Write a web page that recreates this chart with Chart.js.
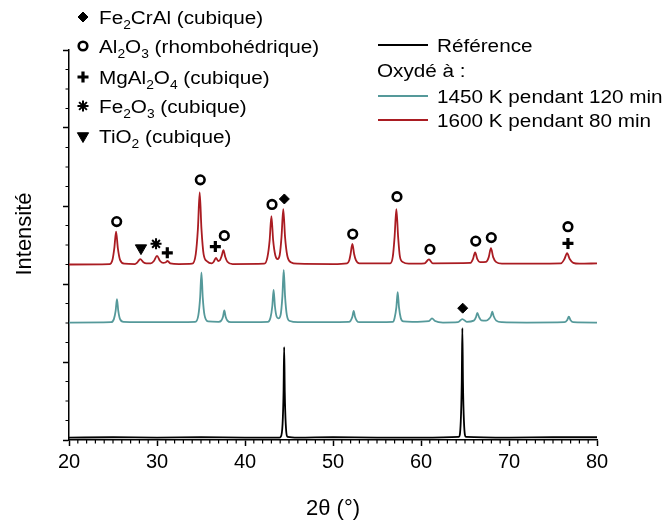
<!DOCTYPE html>
<html>
<head>
<meta charset="utf-8">
<script src="https://cdn.jsdelivr.net/npm/chart.js@4.4.0/dist/chart.umd.min.js"></script>
<style>
  body { margin: 0; background: #fff; }
  #wrap { width: 668px; height: 522px; }
</style>
</head>
<body>
<div id="wrap"><canvas id="xrd" width="668" height="522"></canvas></div>
<script>
// ---- data (2theta in degrees, intensity in arbitrary units 0-100) ----
const refAngles = [20, 25, 30, 35, 40, 43.9, 44.05, 44.27, 44.38, 44.45, 44.52, 44.63, 44.85, 46, 50, 55, 60,
  64.3, 64.52, 64.63, 64.7, 64.77, 64.88, 65.1, 70, 75, 80];
const refValues = [0.6, 0.7, 0.6, 0.7, 0.6, 0.6, 0.8, 4.1, 12.2, 23.8, 12.2, 4.1, 0.8, 0.6, 0.7, 0.6, 0.6,
  0.8, 4.8, 14.6, 28.7, 14.6, 4.8, 0.8, 0.6, 0.7, 0.7];

const t1450Angles = [20, 24.8, 25.1, 25.3, 25.45, 25.6, 25.8, 26.2, 30, 34.35, 34.7, 34.9, 35.05, 35.2, 35.4, 35.8,
  37.0, 37.3, 37.5, 37.65, 37.8, 38.0, 38.4, 42.6, 42.9, 43.1, 43.25, 43.4, 43.6, 43.8, 44.05, 44.25, 44.4, 44.55,
  44.75, 45.1, 46, 51.8, 52.0, 52.2, 52.35, 52.5, 52.7, 53.0, 56.8, 57.0, 57.2, 57.35, 57.5, 57.7, 58.0, 59.0,
  60.9, 61.25, 61.6, 62.5, 64.2, 64.7, 65.2, 66.0, 66.25, 66.4, 66.6, 66.85, 67.4, 67.7, 67.95, 68.1, 68.25, 68.55,
  69.2, 72, 76.3, 76.6, 76.8, 77.0, 77.3, 80];
const t1450Values = [30.1, 30.2, 31.0, 33.1, 36.1, 33.1, 31.0, 30.3, 30.2, 30.3, 32.0, 36.5, 43.0, 36.5, 32.0, 30.4,
  30.3, 30.6, 31.6, 33.2, 31.6, 30.6, 30.2, 30.3, 31.4, 34.3, 38.5, 34.3, 31.6, 31.2, 32.1, 36.9, 43.6, 36.9,
  32.1, 30.5, 30.2, 30.3, 30.6, 31.6, 33.1, 31.6, 30.6, 30.2, 30.3, 31.3, 34.0, 37.9, 34.0, 31.3, 30.4, 30.3,
  30.5, 31.2, 30.5, 30.1, 30.2, 31.0, 30.3, 30.6, 31.5, 32.6, 31.5, 30.7, 30.6, 31.0, 31.8, 32.9, 31.8, 30.6,
  30.2, 30.1, 30.2, 30.7, 31.6, 30.7, 30.2, 30.1];

const t1600Angles = [20, 24.6, 24.95, 25.15, 25.35, 25.55, 25.8, 26.3, 27.5, 27.75, 28.1, 28.45, 28.8, 29.3, 29.65,
  30.0, 30.35, 30.7, 30.95, 31.2, 31.5, 32.5, 34.0, 34.4, 34.65, 34.85, 35.05, 35.3, 35.7, 36.2, 36.45, 36.7,
  36.95, 37.15, 37.35, 37.55, 37.75, 38.0, 38.6, 42.2, 42.55, 42.8, 43.0, 43.2, 43.45, 43.7, 43.95, 44.15, 44.35,
  44.55, 44.8, 45.2, 46.0, 50.0, 51.6, 51.85, 52.0, 52.2, 52.4, 52.6, 53.0, 56.5, 56.8, 57.0, 57.2, 57.4, 57.6,
  57.95, 58.6, 60.4, 60.9, 61.35, 65.6, 65.9, 66.15, 66.4, 66.7, 67.4, 67.7, 67.95, 68.2, 68.55, 69.2, 75.9,
  76.3, 76.6, 76.9, 77.3, 78.0, 80.0];
const t1600Values = [45.0, 45.1, 46.3, 49.2, 53.4, 49.2, 46.2, 45.2, 45.1, 45.5, 46.4, 45.6, 45.3, 45.3, 45.9,
  47.2, 45.9, 45.4, 45.5, 45.9, 45.3, 45.1, 45.2, 47.6, 54.2, 63.5, 54.2, 47.6, 45.8, 45.3, 45.7, 46.7,
  45.9, 46.1, 47.2, 48.7, 47.0, 45.7, 45.1, 45.2, 46.9, 51.2, 57.4, 51.2, 47.3, 46.4, 47.5, 52.1, 59.2,
  52.1, 47.3, 45.6, 45.2, 45.1, 45.3, 46.1, 47.7, 50.3, 47.7, 46.1, 45.3, 45.3, 47.1, 52.1, 59.2, 52.1, 47.1,
  45.6, 45.2, 45.3, 46.3, 45.3, 45.4, 46.4, 48.1, 46.4, 45.6, 45.7, 46.9, 49.2, 46.9, 45.6, 45.2, 45.3,
  46.4, 47.9, 46.4, 45.4, 45.2, 45.3];

// phase markers above the peaks
const al2o3X = [25.42, 34.92, 37.65, 43.07, 52.24, 57.27, 61.02, 66.22, 67.99, 76.7];
const al2o3Y = [56.0, 66.7, 52.4, 60.4, 52.8, 62.4, 48.9, 51.0, 51.9, 54.7];
const fe2craX = [44.47, 64.74];
const fe2craY = [61.8, 33.8];
const mgal2o4X = [31.17, 36.63, 76.7];
const mgal2o4Y = [48.0, 49.6, 50.4];
const fe2o3X = [29.89];
const fe2o3Y = [50.3];
const tio2X = [28.18];
const tio2Y = [49.2];

const xTicks = [20, 30, 40, 50, 60, 70, 80];

const FONT = '"Liberation Sans", Arial, Helvetica, sans-serif';
const RED = '#aa1c22';
const TEAL = '#55999a';

const toPts = (xs, ys) => xs.map((x, i) => ({ x: x, y: ys[i] }));

// legend entries: [text, isSubscript] pieces
const phaseLegend = [
  { style: 'rectRot', radius: 5, border: 1, fill: '#000', parts: [['Fe', 0], ['2', 1], ['CrAl (cubique)', 0]] },
  { style: 'circle', radius: 4.3, border: 2.6, fill: 'rgba(0,0,0,0)', parts: [['Al', 0], ['2', 1], ['O', 0], ['3', 1], [' (rhombohédrique)', 0]] },
  { style: 'cross', radius: 5.5, border: 3.2, fill: '#000', parts: [['MgAl', 0], ['2', 1], ['O', 0], ['4', 1], [' (cubique)', 0]] },
  { style: 'star', radius: 5.5, border: 2, fill: '#000', parts: [['Fe', 0], ['2', 1], ['O', 0], ['3', 1], [' (cubique)', 0]] },
  { style: 'triangle', radius: 6.5, border: 1, fill: '#000', rotation: 180, parts: [['TiO', 0], ['2', 1], [' (cubique)', 0]] }
];
const phaseRowY = [17, 46, 77, 106, 136];

const seriesLegend = [
  { label: 'Référence', color: '#000', y: 45 },
  { label: 'Oxydé à :', color: null, y: 70 },
  { label: '1450 K pendant 120 min', color: TEAL, y: 96 },
  { label: '1600 K pendant 80 min', color: RED, y: 120 }
];

function drawRich(ctx, x, y, parts, size, sx) {
  ctx.save();
  ctx.translate(x, y);
  ctx.scale(sx, 1);
  let cx = 0;
  parts.forEach(p => {
    ctx.font = (p[1] ? Math.round(size * 0.66) : size) + 'px ' + FONT;
    ctx.fillText(p[0], cx, p[1] ? 5 : 0);
    cx += ctx.measureText(p[0]).width;
  });
  ctx.restore();
}

const decorPlugin = {
  id: 'decor',
  afterDraw(chart) {
    const ctx = chart.ctx;
    const xs = chart.scales.x, ys = chart.scales.y;
    const bottom = chart.chartArea.bottom, left = chart.chartArea.left;
    // minor ticks
    ctx.save();
    ctx.strokeStyle = '#000';
    ctx.lineWidth = 1.2;
    ctx.beginPath();
    for (let v = 21; v < 80; v++) {
      if (v % 10 === 0) continue;
      const px = xs.getPixelForValue(v);
      ctx.moveTo(px, bottom);
      ctx.lineTo(px, bottom + 3.5);
    }
    for (let v = 5; v < 100; v += 5) {
      if (v % 20 === 0) continue;
      const py = ys.getPixelForValue(v);
      ctx.moveTo(left, py);
      ctx.lineTo(left - 3.5, py);
    }
    ctx.stroke();

    // y axis title
    ctx.fillStyle = '#000';
    ctx.font = '22px ' + FONT;
    ctx.textAlign = 'center';
    ctx.textBaseline = 'middle';
    ctx.translate(25, 234);
    ctx.rotate(-Math.PI / 2);
    ctx.fillText('Intensité', 0, 0);
    ctx.restore();

    // phase legend (top left)
    ctx.save();
    ctx.strokeStyle = '#000';
    ctx.textAlign = 'left';
    ctx.textBaseline = 'alphabetic';
    phaseLegend.forEach((e, i) => {
      const y = phaseRowY[i];
      ctx.fillStyle = e.fill;
      ctx.lineWidth = e.border;
      Chart.helpers.drawPoint(ctx, { pointStyle: e.style, radius: e.radius, rotation: e.rotation || 0, borderWidth: e.border }, 83, y);
      ctx.fillStyle = '#000';
      drawRich(ctx, 99, y + 6.5, e.parts, 18, 1.15);
    });

    // series legend (top right)
    seriesLegend.forEach(e => {
      if (e.color) {
        ctx.strokeStyle = e.color;
        ctx.lineWidth = 1.8;
        ctx.beginPath();
        ctx.moveTo(378, e.y);
        ctx.lineTo(428, e.y);
        ctx.stroke();
        drawRich(ctx, 437, e.y + 6.5, [[e.label, 0]], 18, 1.15);
      } else {
        drawRich(ctx, 377, e.y + 6.5, [[e.label, 0]], 18, 1.15);
      }
    });
    ctx.restore();
  }
};

const lineDs = (label, xs, ys, color, w) => ({
  label: label,
  data: toPts(xs, ys),
  borderColor: color,
  borderWidth: w,
  pointRadius: 0,
  fill: false,
  cubicInterpolationMode: 'monotone'
});

const markDs = (label, xs, ys, style, radius, border, fill, rotation) => ({
  label: label,
  data: toPts(xs, ys),
  showLine: false,
  pointStyle: style,
  pointRadius: radius,
  pointBorderWidth: border,
  pointBorderColor: '#000',
  pointBackgroundColor: fill,
  pointRotation: rotation || 0
});

new Chart(document.getElementById('xrd'), {
  type: 'line',
  data: {
    datasets: [
      lineDs('Référence', refAngles, refValues, '#000', 1.8),
      lineDs('1450 K pendant 120 min', t1450Angles, t1450Values, TEAL, 1.8),
      lineDs('1600 K pendant 80 min', t1600Angles, t1600Values, RED, 1.8),
      markDs('Al2O3', al2o3X, al2o3Y, 'circle', 4.3, 2.6, 'rgba(0,0,0,0)'),
      markDs('Fe2CrAl', fe2craX, fe2craY, 'rectRot', 5, 1, '#000'),
      markDs('MgAl2O4', mgal2o4X, mgal2o4Y, 'cross', 5.5, 3.2, '#000'),
      markDs('Fe2O3', fe2o3X, fe2o3Y, 'star', 5.5, 2, '#000'),
      markDs('TiO2', tio2X, tio2Y, 'triangle', 6.5, 1, '#000', 180)
    ]
  },
  options: {
    responsive: false,
    animation: false,
    layout: { padding: { left: 0, right: 71, top: 50, bottom: 0 } },
    plugins: { legend: { display: false }, tooltip: { enabled: false } },
    scales: {
      x: {
        type: 'linear',
        min: 20,
        max: 80,
        afterFit: s => { s.height = 82; },
        afterBuildTicks: s => { s.ticks = xTicks.map(v => ({ value: v })); },
        grid: { drawOnChartArea: false, tickLength: 6, tickColor: '#000', tickWidth: 1.5 },
        border: { color: '#000', width: 1.5 },
        ticks: { color: '#000', padding: 4, font: { family: FONT, size: 20 }, maxRotation: 0 },
        title: { display: true, text: '2θ (°)', color: '#000', font: { family: FONT, size: 22 }, padding: { top: 0, bottom: 0 } }
      },
      y: {
        min: 0,
        max: 100,
        afterFit: s => { s.width = 69; },
        ticks: { stepSize: 20, display: false },
        grid: { drawOnChartArea: false, tickLength: 6, tickColor: '#000', tickWidth: 1.5 },
        border: { color: '#000', width: 1.5 }
      }
    }
  },
  plugins: [decorPlugin]
});
</script>
</body>
</html>
